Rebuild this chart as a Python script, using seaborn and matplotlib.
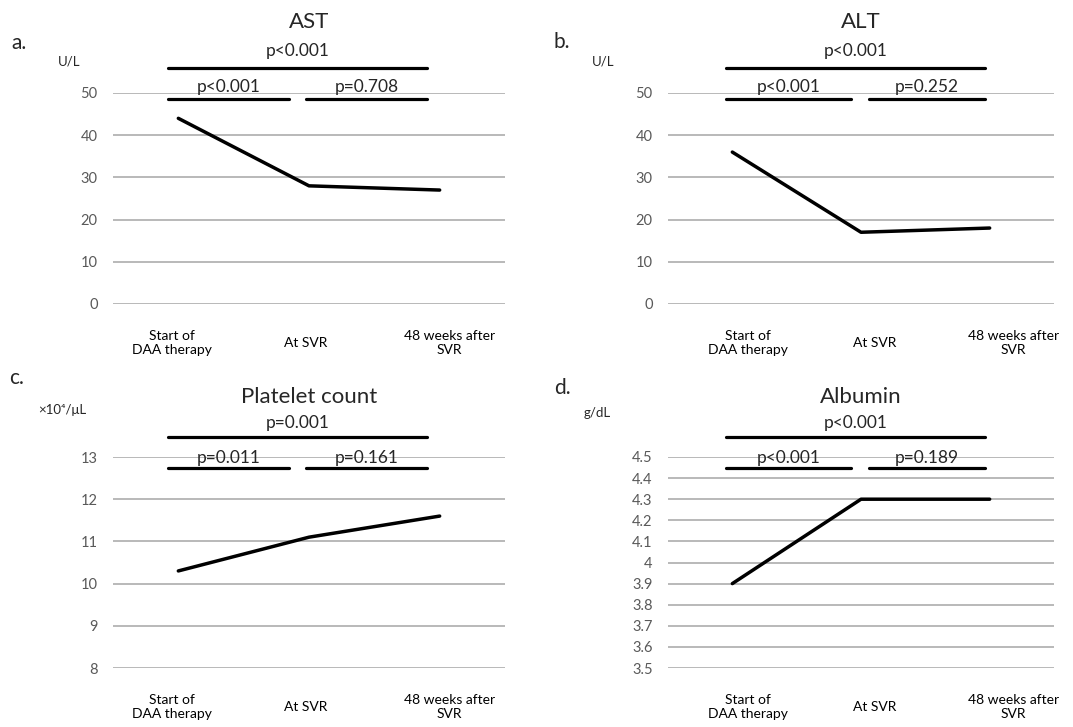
import numpy as np
import pandas as pd
import matplotlib
matplotlib.use("Agg")
import matplotlib.pyplot as plt
import matplotlib.transforms as mtransforms
import seaborn as sns

# ---- data ----
timepoints = ["Start of\nDAA therapy", "At SVR", "48 weeks after\nSVR"]

ast = [44, 28, 27]
alt = [36, 17, 18]
platelet = [10.3, 11.1, 11.6]
albumin = [3.9, 4.3, 4.3]

titles = ["AST", "ALT", "Platelet count", "Albumin"]
panel_tags = ["a.", "b.", "c.", "d."]
units = ["U/L", "U/L", "×10⁴/μL", "g/dL"]
p_overall = ["p<0.001", "p<0.001", "p=0.001", "p<0.001"]
p_first = ["p<0.001", "p<0.001", "p=0.011", "p<0.001"]
p_second = ["p=0.708", "p=0.252", "p=0.161", "p=0.189"]

yticks_ast = [0, 10, 20, 30, 40, 50]
yticks_alt = [0, 10, 20, 30, 40, 50]
yticks_plt = [8, 9, 10, 11, 12, 13]
yticks_alb = [3.5, 3.6, 3.7, 3.8, 3.9, 4.0, 4.1, 4.2, 4.3, 4.4, 4.5]

sns.set_theme(style="white")
plt.rcParams["font.family"] = ["Lato", "DejaVu Sans"]

W, H = 1073, 727
fig = plt.figure(figsize=(W / 100, H / 100), dpi=100)

def px_rect(left, right, top, bottom):
    return [left / W, 1 - bottom / H, (right - left) / W, (bottom - top) / H]

rects = [px_rect(113, 505, 93, 304), px_rect(668, 1054, 93, 304),
         px_rect(113, 505, 457, 668), px_rect(668, 1054, 457, 668)]

series = [ast, alt, platelet, albumin]
yticks = [yticks_ast, yticks_alt, yticks_plt, yticks_alb]

# layout numbers (axes fraction) for the annotations of the top / bottom rows
row_cfg = {
    0: dict(title=1.335, up_txt=1.20, up_bar=1.118, lo_txt=1.03, lo_bar=0.972),
    1: dict(title=1.284, up_txt=1.163, up_bar=1.095, lo_txt=0.997, lo_bar=0.948),
}
# bracket x extents in category positions
brk_left = [(-0.08, 0.85, 0.98, 1.90), (-0.05, 0.92, 1.06, 1.96)]
# tick-label horizontal shifts (pixels), the chart had them off-centre
lab_shift = [(-6, -3, 10), (16, 14, 24)]
# panel tag and unit positions in pixels (x, y)
tag_pos = [(19, 43), (562, 42), (17, 378), (562, 388)]
unit_pos = [(69, 61), (603, 61), (62, 410), (597, 413)]

for i, (rect, vals, yt) in enumerate(zip(rects, series, yticks)):
    ax = fig.add_axes(rect)
    df = pd.DataFrame({"pos": np.arange(len(timepoints)), "value": vals})
    sns.lineplot(data=df, x="pos", y="value", ax=ax, color="black",
                 linewidth=2.5, solid_capstyle="round", sort=False)
    ax.set_xlim(-0.5, len(timepoints) - 0.5)
    ax.set_ylim(yt[0], yt[-1])
    ax.set_yticks(yt)
    ax.set_yticklabels([f"{v:g}" for v in yt], fontsize=10.5, color="#595959")
    ax.set_xticks(range(len(timepoints)))
    ax.set_xticklabels(timepoints, fontsize=10, color="black",
                       linespacing=1.15)
    ax.tick_params(axis="y", length=0, pad=11)
    ax.tick_params(axis="x", length=0, pad=28)
    col = i % 2
    for lab, dx in zip(ax.get_xticklabels(), lab_shift[col]):
        lab.set_va("center")
        lab.set_multialignment("center")
        lab.set_transform(lab.get_transform() +
                          mtransforms.ScaledTranslation(dx / 100, 0, fig.dpi_scale_trans))
    ax.set_xlabel("")
    ax.set_ylabel("")
    for s in ax.spines.values():
        s.set_visible(False)
    ax.grid(axis="y", color="#A6A6A6", linewidth=1.1)
    ax.grid(axis="x", visible=False)
    ax.set_axisbelow(True)

    cfg = row_cfg[i // 2]
    tr = mtransforms.blended_transform_factory(ax.transData, ax.transAxes)
    x0, x1, x2, x3 = brk_left[col]
    ax.plot([x0, x3], [cfg["up_bar"]] * 2, color="black", lw=2.3,
            transform=tr, clip_on=False)
    ax.plot([x0, x1], [cfg["lo_bar"]] * 2, color="black", lw=2.3,
            transform=tr, clip_on=False)
    ax.plot([x2, x3], [cfg["lo_bar"]] * 2, color="black", lw=2.3,
            transform=tr, clip_on=False)
    ax.text((x0 + x3) / 2, cfg["up_txt"], p_overall[i], transform=tr,
            ha="center", va="center", fontsize=12.5)
    ax.text((x0 + x1) / 2, cfg["lo_txt"], p_first[i], transform=tr,
            ha="center", va="center", fontsize=12.5)
    ax.text((x2 + x3) / 2, cfg["lo_txt"], p_second[i], transform=tr,
            ha="center", va="center", fontsize=12.5)
    ax.text(1.0, cfg["title"], titles[i], transform=tr,
            ha="center", va="center", fontsize=16)

    tx, ty = tag_pos[i]
    fig.text(tx / W, 1 - ty / H, panel_tags[i], ha="center", va="center",
             fontsize=15)
    ux, uy = unit_pos[i]
    fig.text(ux / W, 1 - uy / H, units[i], ha="center", va="center",
             fontsize=9.5)

fig.savefig("out.png", dpi=100)
